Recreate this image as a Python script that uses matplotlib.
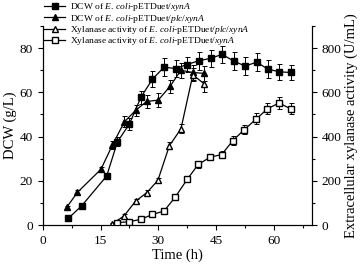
import matplotlib
matplotlib.use('Agg')
import matplotlib.pyplot as plt
from matplotlib.ticker import MultipleLocator

plt.rcParams['font.family'] = 'Liberation Serif'
plt.rcParams['mathtext.fontset'] = 'custom'
plt.rcParams['mathtext.rm'] = 'Liberation Serif'
plt.rcParams['mathtext.it'] = 'Liberation Serif:italic'

# DCW of E. coli-pETDuet/xynA (g/L)
t_dcw_xyn = [6.6, 10.1, 16.6, 19.4, 22.5, 25.5, 28.5, 31.5, 34.5, 37.5, 40.5, 43.6, 46.6,
             49.6, 52.6, 55.6, 58.5, 61.5, 64.5]
dcw_xyn = [3.0, 8.7, 22.2, 37.7, 45.7, 57.8, 66.0, 71.4, 70.8, 72.6, 74.3, 75.4, 77.2,
           74.2, 71.9, 73.7, 70.5, 69.3, 69.0]
dcw_xyn_err = [0.8, 1.0, 1.2, 2.0, 2.5, 3.0, 3.5, 4.0, 4.0, 3.5, 4.0, 4.0, 4.0,
               4.0, 4.0, 4.0, 4.0, 3.5, 3.5]

# DCW of E. coli-pETDuet/plc/xynA (g/L)
t_dcw_plc = [6.2, 9.0, 15.1, 18.1, 21.2, 24.2, 27.0, 30.0, 33.1, 35.9, 39.0, 41.9]
dcw_plc = [8.0, 14.8, 25.2, 36.2, 46.7, 52.0, 55.9, 56.5, 62.8, 70.0, 69.0, 68.6]
dcw_plc_err = [0.8, 1.0, 1.2, 1.8, 2.5, 2.5, 3.0, 3.0, 3.0, 3.5, 3.5, 3.5]

# Xylanase activity of E. coli-pETDuet/plc/xynA (U/mL)
t_xyl_plc = [18.1, 21.1, 24.1, 27.0, 29.9, 32.9, 35.9, 39.0, 41.9]
xyl_plc = [6, 41, 108, 146, 202, 359, 435, 680, 639]
xyl_plc_err = [5, 8, 10, 12, 12, 15, 20, 30, 35]

# Xylanase activity of E. coli-pETDuet/xynA (U/mL)
t_xyl_xyn = [19.4, 22.5, 25.5, 28.5, 31.5, 34.4, 37.5, 40.4, 43.5, 46.5, 49.4, 52.4,
             55.5, 58.4, 61.4, 64.5]
xyl_xyn = [11, 15, 26, 48, 63, 126, 206, 274, 307, 319, 382, 432, 480, 526, 552, 525]
xyl_xyn_err = [5, 5, 6, 8, 8, 10, 12, 15, 15, 15, 20, 20, 25, 25, 25, 25]

fig = plt.figure(figsize=(3.6, 2.66), dpi=100)
ax = fig.add_axes([0.119, 0.154, 0.748, 0.748])
ax2 = ax.twinx()

kw = dict(color='black', lw=0.9, ms=4.3, capsize=1.8, elinewidth=0.7, capthick=0.7)
h1 = ax.errorbar(t_dcw_xyn, dcw_xyn, yerr=dcw_xyn_err, marker='s', mfc='black', **kw)
h2 = ax.errorbar(t_dcw_plc, dcw_plc, yerr=dcw_plc_err, marker='^', mfc='black', **kw)
h3 = ax2.errorbar(t_xyl_plc, xyl_plc, yerr=xyl_plc_err, marker='^', mfc='white', **kw)
h4 = ax2.errorbar(t_xyl_xyn, xyl_xyn, yerr=xyl_xyn_err, marker='s', mfc='white', **kw)

ax.set_xlim(0, 70)
ax.set_ylim(0, 90)
ax2.set_ylim(0, 900)
ax.xaxis.set_major_locator(MultipleLocator(15))
ax.xaxis.set_minor_locator(MultipleLocator(7.5))
ax.yaxis.set_major_locator(MultipleLocator(20))
ax.yaxis.set_minor_locator(MultipleLocator(10))
ax2.yaxis.set_major_locator(MultipleLocator(200))
ax2.yaxis.set_minor_locator(MultipleLocator(100))
for a in (ax, ax2):
    a.spines['top'].set_visible(False)
    a.tick_params(which='both', direction='out', labelsize=9.5, width=0.8)
    a.tick_params(which='major', length=3.5)
    a.tick_params(which='minor', length=2)

ax.set_xlabel('Time (h)', fontsize=10.5, labelpad=1)
ax.set_ylabel('DCW (g/L)', fontsize=10.5, labelpad=2)
ax2.set_ylabel('Extracellular xylanase activity (U/mL)', fontsize=10.5, labelpad=2)

labels = [r'DCW of$\ \mathit{E.\,coli}$-pETDuet/$\mathit{xynA}$',
          r'DCW of$\ \mathit{E.\,coli}$-pETDuet/$\mathit{plc}$/$\mathit{xynA}$',
          r'Xylanase activity of$\ \mathit{E.\,coli}$-pETDuet/$\mathit{plc}$/$\mathit{xynA}$',
          r'Xylanase activity of$\ \mathit{E.\,coli}$-pETDuet/$\mathit{xynA}$']
fig.legend([h1[0], h2[0], h3[0], h4[0]], labels, loc='upper left',
           bbox_to_anchor=(0.118, 1.003), frameon=False, fontsize=6.8,
           handlelength=2.2, labelspacing=-0.06, handletextpad=0.5,
           borderaxespad=0, borderpad=0.2)

fig.savefig('out.png', dpi=100)
